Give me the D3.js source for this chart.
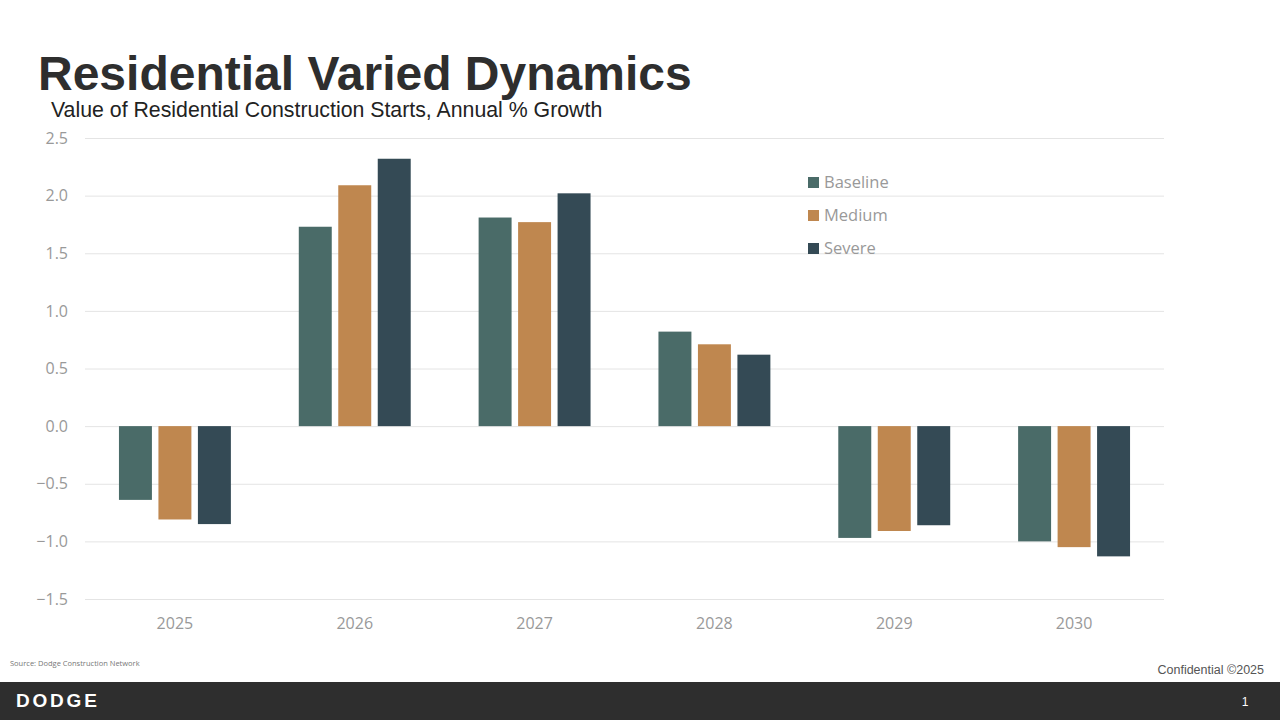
<!DOCTYPE html>
<meta charset="utf-8">
<title>Residential Varied Dynamics</title>
<style>
body { margin: 0; background: #fff; }
svg { display: block; }
.tick text { fill: #999; font-size: 16px; font-family: "Open Sans", sans-serif; }
.title { font-family: "Liberation Sans", Arial, sans-serif; font-weight: bold; fill: #2e2e2e; }
.sub { font-family: "Liberation Sans", Arial, sans-serif; fill: #222; }
</style>
<body>
<svg></svg>
<script src="https://d3js.org/d3.v7.min.js"></script>
<script>

var years = ["2025", "2026", "2027", "2028", "2029", "2030"];
var seriesNames = ["Baseline", "Medium", "Severe"];
var baseline = [-0.64, 1.73, 1.81, 0.82, -0.97, -1.00];
var medium = [-0.81, 2.09, 1.77, 0.71, -0.91, -1.05];
var severe = [-0.85, 2.32, 2.02, 0.62, -0.86, -1.13];
var yTicks = [-1.5, -1.0, -0.5, 0.0, 0.5, 1.0, 1.5, 2.0, 2.5];
var colors = ["#4a6b68", "#bf874f", "#344a55"];

var width = 1280, height = 720;
var svg = d3.select("svg").attr("width", width).attr("height", height);

var plotL = 85, plotR = 1164, plotT = 138, plotB = 599;

var x = d3.scaleBand().domain(years).range([plotL, plotR]).paddingInner(0).paddingOuter(0);
var xs = d3.scaleBand().domain(seriesNames).range([0, x.bandwidth()]).paddingInner(0.165).paddingOuter(0.86);
var y = d3.scaleLinear().domain([-1.5, 2.5]).range([plotB, plotT]);

// title
svg.append("text").attr("class", "title").attr("x", 38).attr("y", 90)
    .style("font-size", "48px").text("Residential Varied Dynamics");
svg.append("text").attr("class", "sub").attr("x", 51).attr("y", 117)
    .style("font-size", "21.3px").text("Value of Residential Construction Starts, Annual % Growth");

// grid + y axis
var yAxis = svg.append("g").attr("transform", "translate(" + plotL + ",0)")
    .call(d3.axisLeft(y).tickValues(yTicks).tickSize(-(plotR - plotL)).tickPadding(17)
        .tickFormat(d3.format(".1f")));
yAxis.select(".domain").remove();
yAxis.selectAll(".tick line").attr("stroke", "#e4e4e4").attr("stroke-width", 1);
yAxis.selectAll(".tick text").text(d => d3.format(".1f")(d).replace("-", "\u2212"));

// bars
var data = years.map((yr, i) => ({year: yr, vals: [baseline[i], medium[i], severe[i]]}));
var groups = svg.append("g").selectAll("g").data(data).join("g")
    .attr("transform", d => "translate(" + x(d.year) + ",0)");
groups.selectAll("rect").data(d => d.vals.map((v, j) => ({name: seriesNames[j], v: v, c: colors[j]})))
    .join("rect")
    .attr("x", d => xs(d.name))
    .attr("width", xs.bandwidth())
    .attr("y", d => y(Math.max(0, d.v)))
    .attr("height", d => Math.abs(y(d.v) - y(0)))
    .attr("fill", d => d.c);

// x axis labels
var xAxis = svg.append("g").attr("transform", "translate(0," + plotB + ")")
    .call(d3.axisBottom(x).tickSize(0).tickPadding(19));
xAxis.select(".domain").remove();

// legend
var legend = svg.append("g").selectAll("g").data(seriesNames).join("g")
    .attr("transform", (d, i) => "translate(808," + (177 + i * 33) + ")");
legend.append("rect").attr("width", 11).attr("height", 11).attr("fill", (d, i) => colors[i]);
legend.append("text").attr("x", 16).attr("y", 11).attr("fill", "#999")
    .style("font-family", "Open Sans, sans-serif").style("font-size", "16.5px").text(d => d);

// footer
svg.append("text").attr("x", 10).attr("y", 666).attr("fill", "#777")
    .style("font-family", "Open Sans, sans-serif").style("font-size", "7.5px")
    .text("Source: Dodge Construction Network");
svg.append("text").attr("x", 1264).attr("y", 674).attr("text-anchor", "end").attr("fill", "#555")
    .style("font-family", "Liberation Sans, Arial, sans-serif").style("font-size", "12.5px")
    .text("Confidential \u00a92025");
svg.append("rect").attr("x", 0).attr("y", 682).attr("width", width).attr("height", 38).attr("fill", "#2e2e2e");
svg.append("text").attr("x", 16).attr("y", 707).attr("fill", "#fff")
    .style("font-family", "Liberation Sans, Arial, sans-serif").style("font-weight", "bold")
    .style("font-size", "19px").style("letter-spacing", "2.8px").text("DODGE");
svg.append("text").attr("x", 1245).attr("y", 706).attr("text-anchor", "middle").attr("fill", "#fff")
    .style("font-family", "Liberation Sans, Arial, sans-serif").style("font-size", "12px").text("1");
</script>
</body>
